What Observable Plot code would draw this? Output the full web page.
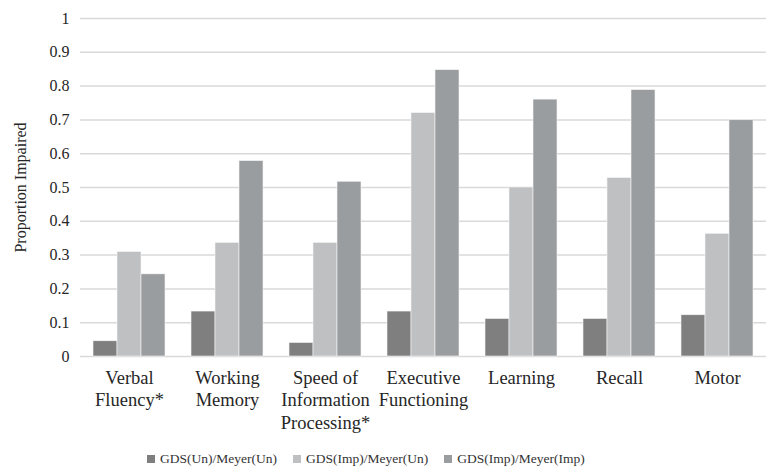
<!DOCTYPE html>
<html>
<head>
<meta charset="utf-8">
<script src="https://cdn.jsdelivr.net/npm/d3@7"></script>
<script src="https://cdn.jsdelivr.net/npm/@observablehq/plot@0.6"></script>
<style>
  body { margin: 0; background: #fff; font-family: "Liberation Serif", "DejaVu Serif", serif; }
  #legend { display: flex; align-items: center; height: 28px; padding-left: 147px; font-size: 13.5px; color: #333; }
  #legend .item { display: flex; align-items: center; margin-right: 16px; }
  #legend .sw { width: 8px; height: 8px; margin-right: 5px; }
  svg text { font-family: "Liberation Serif", "DejaVu Serif", serif; }
</style>
</head>
<body>
<div id="chart"></div>
<div id="legend"></div>
<script>
const categories = ["Verbal\nFluency*", "Working\nMemory", "Speed of\nInformation\nProcessing*", "Executive\nFunctioning", "Learning", "Recall", "Motor"];
const series = ["GDS(Un)/Meyer(Un)", "GDS(Imp)/Meyer(Un)", "GDS(Imp)/Meyer(Imp)"];
const colors = ["#7f7f80", "#bfc0c2", "#9a9da0"];
const gdsUnMeyerUn   = [0.045, 0.133, 0.040, 0.133, 0.111, 0.111, 0.122];
const gdsImpMeyerUn  = [0.309, 0.336, 0.336, 0.720, 0.500, 0.528, 0.363];
const gdsImpMeyerImp = [0.243, 0.578, 0.517, 0.847, 0.760, 0.788, 0.699];
const yTicks = [0, 0.1, 0.2, 0.3, 0.4, 0.5, 0.6, 0.7, 0.8, 0.9, 1];

const valuesBySeries = [gdsUnMeyerUn, gdsImpMeyerUn, gdsImpMeyerImp];
const data = categories.flatMap((c, i) => series.map((s, j) => ({category: c, series: s, value: valuesBySeries[j][i]})));

const chart = Plot.plot({
  width: 766,
  height: 445,
  marginLeft: 80,
  marginRight: 0,
  marginTop: 18,
  marginBottom: 89,
  style: {fontFamily: "'Liberation Serif', 'DejaVu Serif', serif", fontSize: "16px", color: "#262626", background: "#fff"},
  fx: {domain: categories, padding: 0, label: null},
  x: {domain: series, paddingInner: 0, paddingOuter: 0.5, axis: null},
  y: {domain: [0, 1], label: "Proportion Impaired"},
  color: {domain: series, range: colors},
  marks: [
    Plot.gridY(yTicks, {stroke: "#d9d9d9", strokeOpacity: 1, strokeWidth: 1.5}),
    Plot.barY(data, {fx: "category", x: "series", y: "value", fill: "series", stroke: "#f4f4f4", strokeWidth: 0.6}),
    Plot.axisY(yTicks, {tickSize: 0, tickPadding: 11, tickFormat: d => String(d), fontSize: 16, label: "Proportion Impaired", labelAnchor: "center", labelArrow: "none", labelOffset: 66}),
    Plot.axisFx({anchor: "bottom", tickSize: 0, tickPadding: 12, fontSize: 18.5, lineHeight: 1.2, label: null})
  ]
});
document.getElementById("chart").appendChild(chart);

const legend = document.getElementById("legend");
series.forEach((s, i) => {
  const item = document.createElement("div");
  item.className = "item";
  const sw = document.createElement("span");
  sw.className = "sw";
  sw.style.background = colors[i];
  const label = document.createElement("span");
  label.textContent = s;
  item.appendChild(sw);
  item.appendChild(label);
  legend.appendChild(item);
});
</script>
</body>
</html>
